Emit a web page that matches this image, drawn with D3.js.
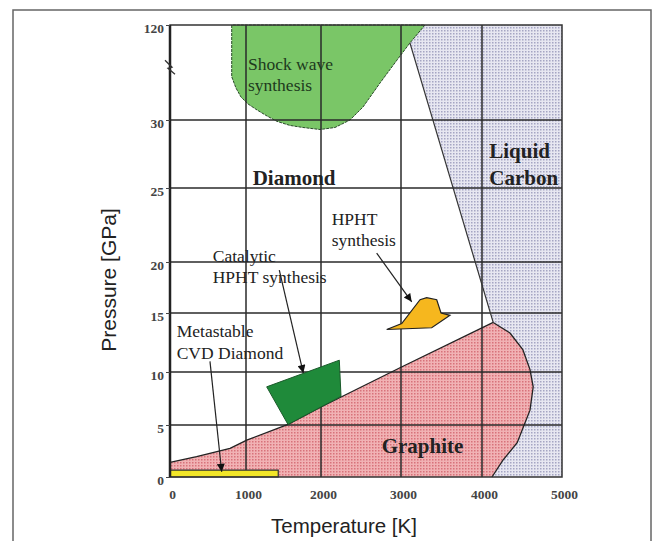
<!DOCTYPE html>
<html>
<head>
<meta charset="utf-8">
<script src="https://cdn.jsdelivr.net/npm/d3@7/dist/d3.min.js"></script>
<style>
body{margin:0;background:#fff;}
.tick text{font-family:"Liberation Serif",serif;font-weight:bold;font-size:13.5px;fill:#444;}
.lbl{font-family:"Liberation Serif",serif;fill:#222;}
</style>
</head>
<body>
<div id="graph"></div>
<script>
// tick values on both axes (pressure axis is broken between 30 and 120)
var tempTicks=[0,1000,2000,3000,4000,5000];
var pressTicks=[0,5,10,15,20,25,30,120];

// phase boundaries, points are [T in K, P in GPa]
var diamondGraphiteLine=[[0,1.4],[350,1.95],[790,2.75],[1010,3.55],[1560,5.05],[2000,6.7],[3000,10.4],[4140,14.2]];
var graphiteLiquidLine=[[4140,14.2],[4350,13.3],[4510,11.9],[4600,10.2],[4640,8.6],[4600,6.4],[4440,3.3],[4260,1.6],[4125,0]];
var diamondLiquidLine=[[3110,103],[4140,14.2]];

// synthesis zones
var shockWave=[[812,120],[812,71],[868,60.3],[934,51.8],[1027,45.2],[1147,39.5],[1280,33.8],[1413,29.9],[1587,29.6],[1760,29.45],[1987,29.3],[2175,29.45],[2362,30],[2525,42.3],[2738,65.1],[2950,86.8],[3110,103],[3296,120]];
var catalyticZone=[[1276,8.6],[2229,11.0],[2250,7.7],[1560,5.05]];
var hphtZone=[[2821,13.6],[3379,13.75],[3605,14.8],[3494,15.0],[3441,16.3],[3317,16.5],[3235,16.3],[3009,14.1]];
var cvdZone=[[0,0],[1430,0],[1430,0.67],[0,0.67]];

// text labels: lines, left T, baseline P of each line
var labelLines=[["Shock wave","synthesis"],["Diamond"],["Liquid","Carbon"],["Graphite"],["HPHT","synthesis"],["Catalytic","HPHT synthesis"],["Metastable","CVD Diamond"]];
var labelT=[1026,1089,4091,2759,2134,562,88];
var labelP=[[77.4,57.5],[25.2],[27.2,25.2],[2.34],[22.5,21.08],[20.02,17.9],[12.99,11.08]];
var labelBold=[false,true,true,true,false,false,false];

// arrows from label to zone
var arrows=[[[2696,20.6],[3132,16.1]],[[1444,19.2],[1764,9.9]],[[526,10.9],[680,0.5]]];

var width=656,height=541;
var svg=d3.select('#graph').append('svg').attr('width',width).attr('height',height);

// hand drawn figure: grid spacing is uneven, so use piecewise scales
var x=d3.scaleLinear().domain(tempTicks).range([170,246,321,401,482,562]);
var y=d3.scaleLinear().domain(pressTicks).range([477,425,372,313,262,188,120,25]);

var defs=svg.append('defs');
function dots(id,bg,fg){
  var p=defs.append('pattern').attr('id',id).attr('patternUnits','userSpaceOnUse').attr('width',3).attr('height',3);
  p.append('rect').attr('width',3).attr('height',3).attr('fill',bg);
  p.append('rect').attr('width',1.5).attr('height',1.5).attr('fill',fg);
}
dots('liq','#e7e7f1','#a5a5c3');
dots('gra','#f1b2b4','#d8727a');
defs.append('marker').attr('id','arr').attr('viewBox','0 0 10 10').attr('refX',10).attr('refY',5)
  .attr('markerUnits','userSpaceOnUse').attr('markerWidth',13).attr('markerHeight',8).attr('orient','auto')
  .append('path').attr('d','M0,0L10,5L0,10z').attr('fill','#111');

// outer frame
svg.append('rect').attr('x',13).attr('y',10).attr('width',638).attr('height',560)
  .attr('fill','none').attr('stroke','#666').attr('stroke-width',1.5);

var line=d3.line().x(function(d){return x(d[0]);}).y(function(d){return y(d[1]);});
var poly=d3.line().x(function(d){return x(d[0]);}).y(function(d){return y(d[1]);}).curve(d3.curveLinearClosed);

var liquid=[diamondLiquidLine[0],[3296,120],[5000,120],[5000,0]].concat(graphiteLiquidLine.slice().reverse());
var graphite=[[0,0]].concat(diamondGraphiteLine,graphiteLiquidLine.slice(1));

svg.append('path').attr('d',poly(liquid)).attr('fill','url(#liq)');
svg.append('path').attr('d',poly(graphite)).attr('fill','url(#gra)');
svg.append('path').attr('d',poly(shockWave)).attr('fill','#7ac667').attr('stroke','#2b4a2b').attr('stroke-width',1).attr('stroke-dasharray','3,1');

// grid
var grid=svg.append('g').attr('stroke','#2a2a2a').attr('stroke-width',1.5);
grid.selectAll('.v').data(tempTicks.slice(1,-1)).enter().append('line')
  .attr('x1',x).attr('x2',x).attr('y1',y(120)).attr('y2',y(0));
grid.selectAll('.h').data(pressTicks.slice(1,-1)).enter().append('line')
  .attr('y1',y).attr('y2',y).attr('x1',x(0)).attr('x2',x(5000));

// boundaries
svg.append('path').attr('d',line(diamondGraphiteLine)).attr('fill','none').attr('stroke','#222').attr('stroke-width',1.3);
svg.append('path').attr('d',line(graphiteLiquidLine)).attr('fill','none').attr('stroke','#222').attr('stroke-width',1.3);
svg.append('path').attr('d',line(diamondLiquidLine)).attr('fill','none').attr('stroke','#333').attr('stroke-width',1.2);

svg.append('path').attr('d',poly(catalyticZone)).attr('fill','#1f8a3a').attr('stroke','#1a5a2a').attr('stroke-width',1);
svg.append('path').attr('d',poly(hphtZone)).attr('fill','#f6b71e').attr('stroke','#222').attr('stroke-width',1.2);
svg.append('path').attr('d',poly(cvdZone)).attr('fill','#f2e628').attr('stroke','#333').attr('stroke-width',1.2);

// plot border
svg.append('rect').attr('x',x(0)).attr('y',y(120)).attr('width',x(5000)-x(0)).attr('height',y(0)-y(120))
  .attr('fill','none').attr('stroke','#333').attr('stroke-width',1.5);
svg.append('line').attr('x1',x(0)).attr('x2',x(0)).attr('y1',y(120)).attr('y2',y(0)).attr('stroke','#222').attr('stroke-width',2.5);

// axes
var xa=svg.append('g').attr('transform','translate(0,'+y(0)+')')
  .call(d3.axisBottom(x).tickValues(tempTicks).tickFormat(d3.format('d')).tickSize(0).tickPadding(12));
xa.select('.domain').remove();
xa.selectAll('.tick text').attr('dx',2);
var ya=svg.append('g').attr('transform','translate('+x(0)+',0)')
  .call(d3.axisLeft(y).tickValues(pressTicks).tickFormat(d3.format('d')).tickSize(4).tickPadding(2));
ya.select('.domain').remove();
ya.selectAll('.tick line').attr('stroke','#444');
ya.selectAll('.tick text').attr('dy','0.55em');

// axis break mark
var yb=y(80);
svg.append('path').attr('d','M'+(x(0)-5)+','+(yb-7)+'L'+(x(0)+2)+','+(yb)+'L'+(x(0)-2)+','+(yb+1)+'L'+(x(0)+5)+','+(yb+7))
  .attr('fill','none').attr('stroke','#333').attr('stroke-width',1.3);

// labels
labelLines.forEach(function(ls,i){
  ls.forEach(function(t,j){
    svg.append('text').attr('class','lbl').attr('x',x(labelT[i])).attr('y',y(labelP[i][j]))
      .style('font-size',labelBold[i]?'21px':'17.5px').style('font-weight',labelBold[i]?'bold':'normal')
      .style('fill',i==0?'#1d3a1d':'#222').text(t);
  });
});

svg.selectAll('.arrow').data(arrows).enter().append('path').attr('class','arrow')
  .attr('d',line).attr('stroke','#222').attr('stroke-width',1.2).attr('fill','none').attr('marker-end','url(#arr)');

// axis titles
svg.append('text').attr('x',344).attr('y',533).attr('text-anchor','middle')
  .style('font-family','Liberation Sans, Arial, sans-serif').style('font-size','20.5px').style('fill','#222').text('Temperature [K]');
svg.append('text').attr('transform','translate(116,280) rotate(-90)').attr('text-anchor','middle')
  .style('font-family','Liberation Sans, Arial, sans-serif').style('font-size','21px').style('fill','#222').text('Pressure [GPa]');
</script>
</body>
</html>
